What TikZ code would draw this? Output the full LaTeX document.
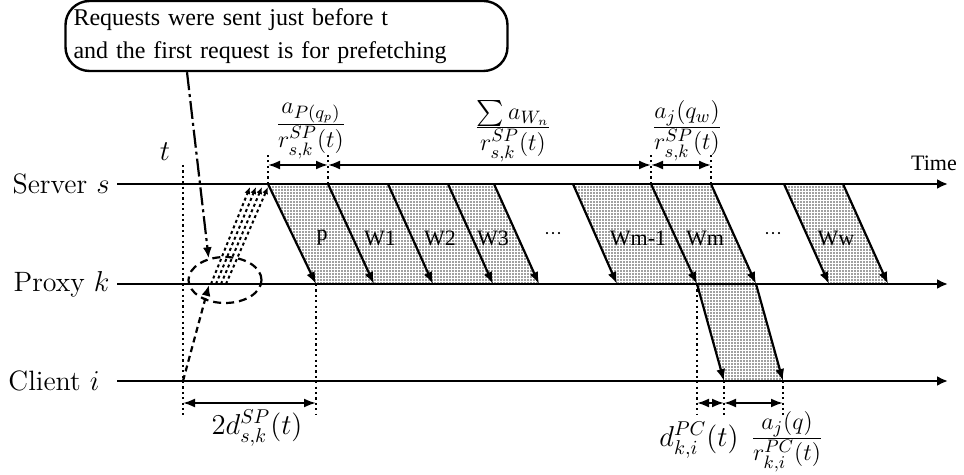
\documentclass[tikz,border=0pt]{standalone}
\usepackage{amsmath,amssymb}
\usepackage{fontspec}
\newfontfamily\romano{Liberation Serif}
\usetikzlibrary{arrows.meta,positioning,patterns.meta,shapes.geometric}
\newcommand{\fracao}[2]{\frac{\textstyle #1}{\textstyle #2}}

\begin{document}
\begin{tikzpicture}[x=0.5pt,y=-0.5pt,
    eixo/.style={-{Latex[length=5.5pt,width=5pt]},line width=1.1pt},
    envio/.style={-{Latex[length=6pt,width=4.5pt]},line width=1.1pt},
    pacote/.style={pattern={Dots[distance=1.5pt,radius=0.42pt]},pattern color=black!75},
    guia/.style={line width=1.1pt,dash pattern=on 1.1pt off 1.6pt},
    cota/.style={{Latex[length=6pt,width=4.5pt]}-{Latex[length=6pt,width=4.5pt]},line width=1pt},
    pedido/.style={-{Latex[length=3.5pt,width=3pt]},line width=1pt,dash pattern=on 1.5pt off 1.5pt},
    chamada/.style={-{Latex[length=5.5pt,width=4.5pt]},line width=1.1pt,dash pattern=on 9pt off 2pt on 1.5pt off 2pt},
    rotulo/.style={font=\fontsize{14}{16}\selectfont,inner sep=1pt},
    razao/.style={font=\fontsize{13}{15}\selectfont,inner sep=1pt},
    nome/.style={font=\romano\fontsize{11}{13}\selectfont,inner sep=1pt}]
  \useasboundingbox (0,0) rectangle (964,475);
  \node[rotulo,anchor=east,inner xsep=3.5pt] (servidor) at (117,184) {Server $s$};
  \node[rotulo,anchor=east,inner xsep=3.5pt] (proxy) at (117,284) {Proxy $k$};
  \node[rotulo,anchor=east,inner xsep=8.5pt] (cliente) at (117,381) {Client $i$};
  \coordinate (fimS) at (948,184); \coordinate (fimP) at (948,284); \coordinate (fimC) at (948,381);
  \foreach \n/\a/\b in {0/268/316,1/328/374,2/388/433,3/448/493,4/494/539,
                        5/573/617,6/651/697,7/711/756,8/784/829,9/843/888}{
    \coordinate (s\n) at (\a,184); \coordinate (p\n) at (\b,284);}
  \coordinate (c6) at (724,381); \coordinate (c7) at (783,381);
  \fill[pacote] (s0) -- (s4) -- (p4) -- (p0) -- cycle;
  \fill[pacote] (s5) -- (s7) -- (p7) -- (p5) -- cycle;
  \fill[pacote] (s8) -- (s9) -- (p9) -- (p8) -- cycle;
  \fill[pacote] (p6) -- (p7) -- (c7) -- (c6) -- cycle;
  \draw[eixo] (servidor) -- (fimS);
  \draw[eixo] (proxy) -- (fimP);
  \draw[eixo] (cliente) -- (fimC);
  \foreach \n in {0,...,9} \draw[envio] (s\n) -- (p\n);
  \draw[envio] (p6) -- (c6); \draw[envio] (p7) -- (c7);
  \node[nome] (tempo) at (934,163) {Time};
  \node[rotulo] (t) at (165,152) {$t$};
  \foreach \n/\x/\txt in {p/322/p,w1/380/W1,w2/440/W2,w3/493/W3,wm1/638/Wm-1,wm/705/Wm,ww/836/Ww}
    \node[nome] (\n) at (\x,238) {\txt};
  \node[nome,font=\romano\fontsize{9}{10}\selectfont] (pontos1) at (553,236) {···};
  \node[nome,font=\romano\fontsize{9}{10}\selectfont] (pontos2) at (773,236) {···};
  \coordinate (t0) at (183,165); \coordinate (t1) at (183,415);
  \coordinate (topo) at (0,152); \coordinate (cotaS) at (0,165); \coordinate (cotaC) at (0,403);
  \draw[guia] (t0) -- (t1);
  \foreach \n in {p0,p6,c6,c7} \draw[guia] (\n) -- (\n |- t1);
  \foreach \n in {s0,s1,s6,s7} \draw[guia] (\n) -- (\n |- topo);
  \draw[cota] (s0 |- cotaS) -- (s1 |- cotaS);
  \draw[cota] (s1 |- cotaS) -- (s6 |- cotaS);
  \draw[cota] (s6 |- cotaS) -- (s7 |- cotaS);
  \draw[cota] (t1 |- cotaC) -- (p0 |- cotaC);
  \draw[cota] (p6 |- cotaC) -- (c6 |- cotaC);
  \draw[cota] (c6 |- cotaC) -- (c7 |- cotaC);
  \node[razao] (fracP) at (311,131) {$\fracao{a_{P(q_p)}}{r^{SP}_{s,k}(t)}$};
  \node[razao] (fracW) at (513,131) {$\fracao{\sum a_{W_n}}{r^{SP}_{s,k}(t)}$};
  \node[razao] (fracJ) at (687,131) {$\fracao{a_j(q_w)}{r^{SP}_{s,k}(t)}$};
  \node[rotulo] (ida) at (257,428) {$2d^{SP}_{s,k}(t)$};
  \node[rotulo] (atraso) at (699,440) {$d^{PC}_{k,i}(t)$};
  \node[razao] (fracC) at (787,442) {$\fracao{a_j(q)}{r^{PC}_{k,i}(t)}$};
  \node[draw,rounded corners=12pt,line width=1.2pt,minimum width=221pt,minimum height=35pt,
        text width=213pt,align=left,font=\romano\fontsize{12}{16.5}\selectfont] (nota) at (286.5,36)
        {Requests were sent just before t\\and the first request is for prefetching};
  \node[draw,ellipse,line width=1.1pt,dash pattern=on 4pt off 2.5pt,inner sep=0pt,
        minimum width=36.5pt,minimum height=23pt] (laco) at (225,280) {};
  \draw[chamada] (nota.200.5) -- (laco.127.7);
  \coordinate (saida) at (183,381); \coordinate (chegada) at (209,285);
  \draw[densely dashed,line width=1.1pt,-{Latex[length=5.5pt,width=4.5pt]}] (saida) -- (chegada);
  \foreach \i in {0,...,3}{
    \coordinate (q\i) at (211+5*\i,284); \coordinate (r\i) at (250+6*\i,187);
    \draw[pedido] (q\i) -- (r\i);}
\end{tikzpicture}
\end{document}
